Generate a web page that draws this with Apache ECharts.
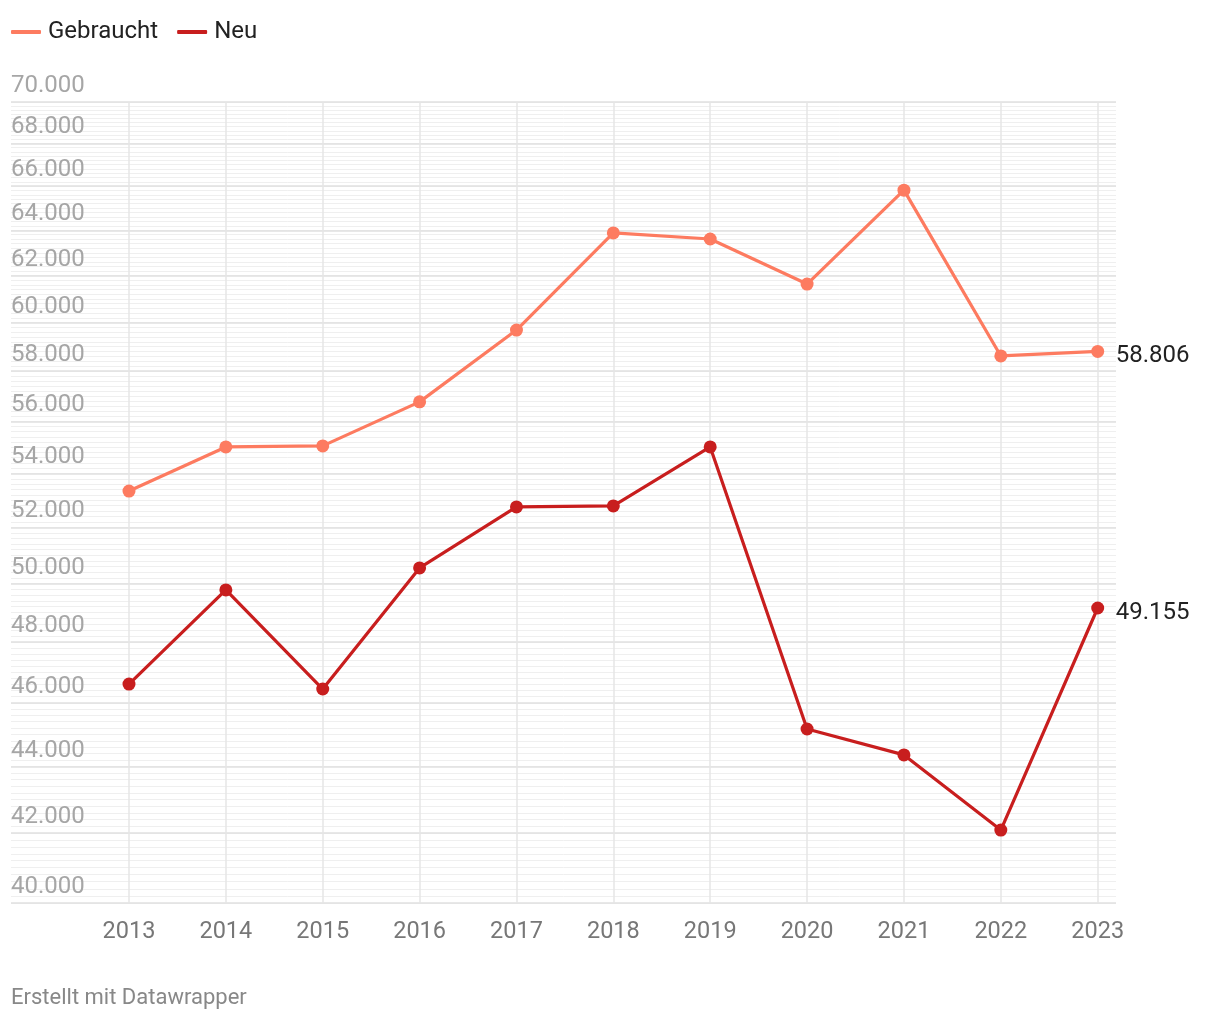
<!DOCTYPE html>
<html>
<head>
<meta charset="utf-8">
<script src="https://cdn.jsdelivr.net/npm/echarts@6/dist/echarts.min.js"></script>
<style>
html,body{margin:0;padding:0;background:#fff;}
#chart{width:1220px;height:1020px;}
</style>
</head>
<body>
<div id="chart"></div>
<script>
const years = [2013, 2014, 2015, 2016, 2017, 2018, 2019, 2020, 2021, 2022, 2023];
const gebraucht = [53340, 55010, 55050, 56770, 59690, 63880, 63610, 61640, 65820, 58620, 58806];
const neu = [46610, 49780, 46450, 50550, 52750, 52790, 55010, 45170, 44360, 42090, 49155];
const yMajorTicks = [40000, 42000, 44000, 46000, 48000, 50000, 52000, 54000, 56000, 58000, 60000, 62000, 64000, 66000, 68000, 70000];
const yMinorStep = 200;

const yMinorTicks = [];
for (let v = 40000; v <= 70000; v += yMinorStep) yMinorTicks.push(v);

function fmt(v) {
  return String(Math.round(v)).replace(/\B(?=(\d{3})+(?!\d))/g, '.');
}

const chart = echarts.init(document.getElementById('chart'), null, {renderer: 'canvas'});
const FONT = 'Roboto, "Noto Sans", sans-serif';

const yBase = {
  type: 'log',
  logBase: 10,
  min: 40000,
  max: 70000,
  position: 'left',
  axisLine: {show: false},
  axisTick: {show: false},
};

const endLabelStyle = {
  show: true,
  formatter: p => fmt(p.value[1]),
  fontSize: 24,
  color: '#222222',
  distance: 18,
  offset: [0, 5],
  fontFamily: FONT
};

chart.setOption({
  animation: false,
  textStyle: {fontFamily: FONT},
  title: {
    text: 'Erstellt mit Datawrapper',
    left: 6,
    top: 982,
    textStyle: {fontSize: 22, fontWeight: 'normal', color: '#888888', fontFamily: FONT}
  },
  legend: {
    left: 6,
    top: 15,
    icon: 'roundRect',
    itemWidth: 30,
    itemHeight: 4,
    itemGap: 19,
    textStyle: {fontSize: 24, color: '#222222', fontFamily: FONT, padding: [0, 0, 0, 2]},
    data: ['Gebraucht', 'Neu']
  },
  grid: {left: 11, right: 104, top: 102, bottom: 117, containLabel: false},
  xAxis: {
    type: 'value',
    min: 2011.782,
    max: 2023.189,
    axisLine: {show: false},
    axisTick: {show: false, customValues: years},
    axisLabel: {
      customValues: years,
      formatter: v => String(v),
      fontSize: 23.5,
      color: '#777777',
      margin: 17,
      fontFamily: FONT
    },
    splitLine: {show: true, lineStyle: {color: '#e6e6e6', width: 1.5}}
  },
  yAxis: [
    Object.assign({}, yBase, {
      axisTick: {show: false, customValues: yMinorTicks},
      axisLabel: {show: false},
      splitLine: {show: true, lineStyle: {color: '#efefef', width: 1}}
    }),
    Object.assign({}, yBase, {
      axisTick: {show: false, customValues: yMajorTicks},
      axisLabel: {
        customValues: yMajorTicks,
        inside: true,
        formatter: v => fmt(v),
        fontSize: 24,
        color: '#a6a6a6',
        margin: 0,
        verticalAlign: 'bottom',
        padding: [0, 0, 4, 0],
        fontFamily: FONT
      },
      splitLine: {show: true, lineStyle: {color: '#e0e0e0', width: 1.5}}
    })
  ],
  series: [
    {
      name: 'Gebraucht',
      type: 'line',
      yAxisIndex: 1,
      data: years.map((y, i) => [y, gebraucht[i]]),
      color: '#fd7b60',
      lineStyle: {width: 3.2},
      symbol: 'circle',
      symbolSize: 13,
      z: 3,
      endLabel: endLabelStyle
    },
    {
      name: 'Neu',
      type: 'line',
      yAxisIndex: 1,
      data: years.map((y, i) => [y, neu[i]]),
      color: '#c81e1e',
      lineStyle: {width: 3.2},
      symbol: 'circle',
      symbolSize: 13,
      z: 3,
      endLabel: endLabelStyle
    }
  ]
});
</script>
</body>
</html>
